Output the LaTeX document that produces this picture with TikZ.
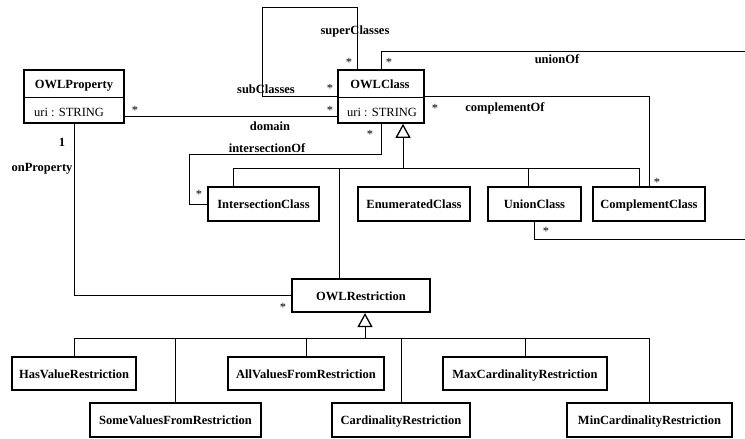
\documentclass[tikz,border=0pt]{standalone}
\usepackage{fontspec}
\setmainfont{Liberation Serif}
\usetikzlibrary{arrows.meta}
\newcommand\umlfont{\fontsize{12.5}{15}\selectfont}
\begin{document}
\begin{tikzpicture}[x=1pt,y=-1pt]
		\tikzset{cls/.style = {shape=rectangle,draw,line width=1.6pt,inner sep=0pt,font=\umlfont\bfseries,text height=9pt,text depth=0pt,minimum height=33.5pt}}
		\tikzset{attr/.style = {inner sep=0pt,font=\umlfont}}
		\tikzset{assoc/.style = {line width=0.9pt}}
		\tikzset{gen/.style = {assoc,-{Triangle[open,length=14pt,width=15pt,line width=1.3pt]}}}
		\tikzset{role/.style = {inner sep=0pt,font=\umlfont\bfseries}}
		\tikzset{mult/.style = {inner sep=0pt,font=\umlfont}}
		\useasboundingbox (0,0) rectangle (745,439);
		\clip (0,0) rectangle (745,439);
		% classes with attributes
		\node[cls,minimum width=100pt,minimum height=53pt] (prop) at (74,96.5) {};
		\node[role,anchor=base] (propname) at (74,88) {OWLProperty};
		\node[attr,anchor=base west] (propattr) at (34,116.5) {uri : STRING};
		\draw[thin] ([yshift=-0.5pt]prop.west) -- ([yshift=-0.5pt]prop.east);
		\node[cls,minimum width=86pt,minimum height=53pt] (cls) at (381,96.5) {};
		\node[role,anchor=base] (clsname) at (380,88) {OWLClass};
		\node[attr,anchor=base west] (clsattr) at (347,116.5) {uri : STRING};
		\draw[thin] ([yshift=-0.5pt]cls.west) -- ([yshift=-0.5pt]cls.east);
		% subclasses of OWLClass
		\node[cls,minimum width=111pt,minimum height=34pt] (inter) at (263.5,204) {IntersectionClass};
		\node[cls,minimum width=112pt,minimum height=34pt] (enum) at (414,204) {EnumeratedClass};
		\node[cls,minimum width=93pt,minimum height=34pt] (union) at (534.5,204) {UnionClass};
		\node[cls,minimum width=112pt,minimum height=34pt] (compl) at (649,204) {ComplementClass};
		\node[cls,minimum width=138pt] (restr) at (361,295.5) {OWLRestriction};
		% restrictions
		\node[cls,minimum width=124pt] (hasval) at (74,373.5) {HasValueRestriction};
		\node[cls,minimum width=171pt,minimum height=34pt] (somev) at (175.5,420) {SomeValuesFromRestriction};
		\node[cls,minimum width=156pt] (allv) at (306,373.5) {AllValuesFromRestriction};
		\node[cls,minimum width=138pt,minimum height=34pt] (card) at (401,420) {CardinalityRestriction};
		\node[cls,minimum width=164pt] (maxc) at (525,373.5) {MaxCardinalityRestriction};
		\node[cls,minimum width=165pt,minimum height=34pt] (minc) at (649.5,420) {MinCardinalityRestriction};
		% generalizations
		\coordinate (cbus) at (403,168);
		\coordinate (rbus) at (365,338);
		\draw[gen] (cbus) -- ([xshift=22pt]cls.south);
		\draw[assoc] (cbus) -| ([xshift=-30.5pt]inter.north);
		\draw[assoc] (cbus) -| ([xshift=-6.5pt]union.north);
		\draw[assoc] (cbus) -| ([xshift=-10pt]compl.north);
		\draw[assoc] (cbus) -| ([xshift=-22pt]restr.north);
		\draw[gen] (rbus) -- ([xshift=4pt]restr.south);
		\foreach \n in {hasval,somev,allv,card,maxc,minc}
			\draw[assoc] (\n.north) |- (rbus);
		% associations
		\coordinate (suploop) at (262,7);
		\coordinate (isectc) at (189,154);
		\coordinate (unionc) at (760,51);
		\coordinate (unionb) at (760,239);
		\draw[assoc] ([xshift=-24pt]cls.north) |- (suploop) |- (cls.west);
		\draw[assoc] ([yshift=-19.5pt]prop.east) -- ([yshift=-19.5pt]cls.west);
		\draw[assoc] (prop.south) |- (restr.west);
		\draw[assoc] (cls.south) |- (isectc) |- (inter.west);
		\draw[assoc] (cls.north) |- (unionc) -- (unionb) -| (union.south);
		\draw[assoc] (cls.east) -| (compl.north);
		% role names and multiplicities
		\node[role] (lsup) at (355,31) {superClasses};
		\node[mult] (msup) at (349,62) {*};
		\node[role] (lsub) at (266,89) {subClasses};
		\node[mult] (msub) at (330,88) {*};
		\node[mult] (mdomp) at (135,110) {*};
		\node[mult] (mdomc) at (330,110) {*};
		\node[role] (ldom) at (270,126) {domain};
		\node[mult] (misc) at (370,134) {*};
		\node[role] (lisc) at (267,148) {intersectionOf};
		\node[mult] (misi) at (199,194) {*};
		\node[mult] (muc) at (389,62) {*};
		\node[role] (lunion) at (557,59) {unionOf};
		\node[mult] (muu) at (546,231) {*};
		\node[mult] (mcc) at (435,108) {*};
		\node[role] (lcompl) at (505,108) {complementOf};
		\node[mult] (mcx) at (657,182) {*};
		\node[role] (mone) at (62,142) {1};
		\node[role] (lonp) at (42,169) {onProperty};
		\node[mult] (mres) at (283,307) {*};
	\end{tikzpicture}
\end{document}
